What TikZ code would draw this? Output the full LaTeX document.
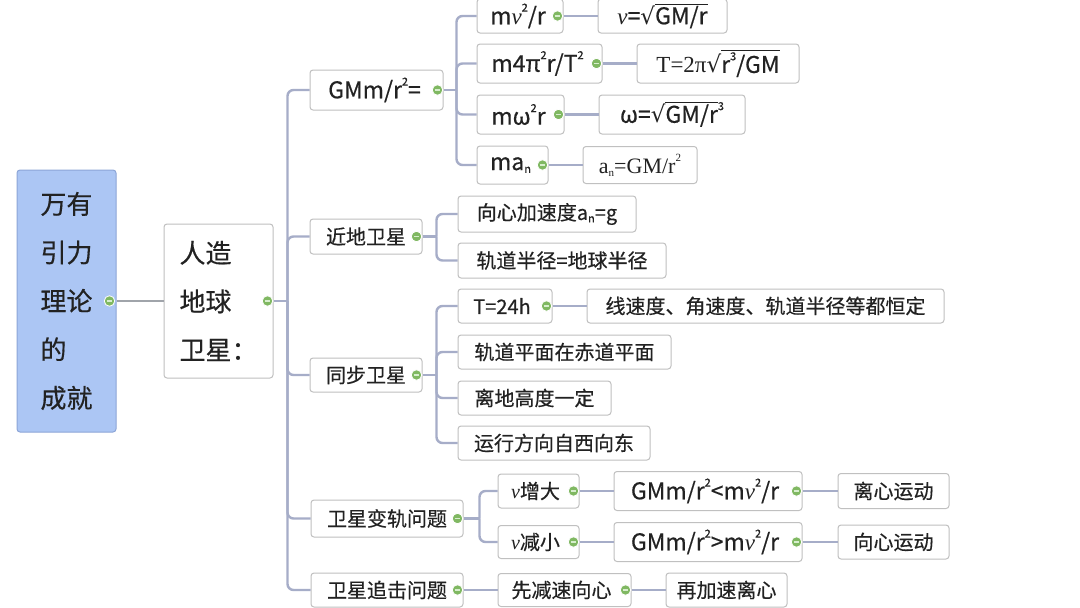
\documentclass[tikz,border=0pt]{standalone}
\usepackage{fontspec}
\setmainfont{Noto Sans CJK SC}[FakeBold=0.45]
\newfontfamily\serif{Liberation Serif}
\newfontfamily\dvs{DejaVu Sans}
\newcommand\vi{{\serif\itshape v}}
\newcommand\sq{{\dvs √}}
\newcommand\up[1]{\raisebox{0.55em}{\fontsize{11}{11}\selectfont #1}}
\newcommand\dn[1]{\raisebox{-0.12em}{\fontsize{11}{11}\selectfont #1}}
\newcommand\ovl[1]{\leavevmode\setbox0\hbox{#1}\rlap{\raisebox{\dimexpr\ht0+1.2pt\relax}{\rule{\wd0}{1.1pt}}}\box0}
\definecolor{txt}{RGB}{34,34,34}
\definecolor{bord}{RGB}{192,192,192}
\definecolor{lnc}{RGB}{166,173,200}
\definecolor{lng}{RGB}{160,164,170}
\definecolor{rootf}{RGB}{172,198,244}
\definecolor{rootd}{RGB}{140,165,215}
\definecolor{dotf}{RGB}{128,184,98}
\definecolor{dotl}{RGB}{215,238,205}
\tikzset{
  bx/.style={draw=bord, line width=1pt, fill=white, rounded corners=3pt, inner sep=0pt, text=txt},
  rootbox/.style={bx, draw=rootd, fill=rootf},
  f1/.style={font=\fontsize{26}{48.5}\selectfont},
  f2/.style={font=\fontsize{20}{24}\selectfont},
  f3/.style={font=\fontsize{23}{27}\selectfont},
  ln/.style={draw=lnc, line width=2.4pt},
  lng/.style={draw=lng, line width=2.4pt},
  rc/.style={rounded corners=6pt},
  dotnode/.style={circle, fill=dotf, draw=white, line width=0.8pt, minimum size=10.5pt, inner sep=0pt,
    path picture={\draw[dotl, line width=1.3pt] ([xshift=-2.8pt]path picture bounding box.center) -- ([xshift=2.8pt]path picture bounding box.center);}}
}
\begin{document}
\begin{tikzpicture}[x=1pt,y=-1pt]
\useasboundingbox (0,0) rectangle (1080,608);
\fill[white] (0,0) rectangle (1080,608);

% root and level 1
\node[rootbox, f1, align=left, minimum width=99, minimum height=262] (root) at (66.5,301) {万有\\引力\\理论\\的\\成就};
\node[bx, f1, align=left, minimum width=109, minimum height=154] (b) at (218.5,301) {人造\\地球\\卫星：};

% level 2
\node[bx, f3, minimum width=133, minimum height=40] (g) at (376.5,90) {GMm/r\up{2}=\hspace*{4pt}};
\node[bx, f2, minimum width=112, minimum height=35] (n) at (366,236.5) {近地卫星};
\node[bx, f2, minimum width=112, minimum height=34] (s) at (366,375) {同步卫星};
\node[bx, f2, minimum width=152, minimum height=37] (t) at (387,518.5) {卫星变轨问题};
\node[bx, f2, minimum width=152, minimum height=34] (u) at (387,590) {卫星追击问题};

% GMm children
\node[bx, f3, minimum width=86, minimum height=34] (g1) at (520,16) {m\vi\up{2}/r\hspace*{4pt}};
\node[bx, f3, minimum width=125, minimum height=39] (g2) at (539.5,63.5) {m4π\up{2}r/T\up{2}\hspace*{4pt}};
\node[bx, f3, minimum width=87, minimum height=39] (g3) at (520.5,114.5) {mω\up{2}r\hspace*{4pt}};
\node[bx, f3, minimum width=71, minimum height=38] (g4) at (512.5,165) {ma\dn{n}\hspace*{4pt}};
\node[bx, f3, minimum width=129, minimum height=34] (g1a) at (662.5,16) {\vi=\sq\ovl{GM/r}};
\node[bx, f3, minimum width=162, minimum height=39] (g2a) at (718,63.5) {{\serif T=2π}\sq\ovl{r\up{3}/GM}};
\node[bx, f3, minimum width=146, minimum height=39] (g3a) at (672,114.5) {ω=\sq\ovl{GM/r}\up{3}};
\node[bx, minimum width=114, minimum height=37, font=\fontsize{22}{26}\selectfont\serif] (g4a) at (640,165) {a\dn{n}=GM/r\up{2}};

% near-earth children
\node[bx, f2, minimum width=178, minimum height=36] (n1) at (547,214) {向心加速度a\dn{n}=g};
\node[bx, f2, minimum width=208, minimum height=35] (n2) at (562,260.5) {轨道半径=地球半径};

% synchronous children
\node[bx, f2, minimum width=94, minimum height=34] (s1) at (505,306) {T=24h\hspace*{6pt}};
\node[bx, f2, minimum width=357, minimum height=34] (s1a) at (765.5,306) {线速度、角速度、轨道半径等都恒定};
\node[bx, f2, minimum width=213, minimum height=34] (s2) at (564.5,352) {轨道平面在赤道平面};
\node[bx, f2, minimum width=153, minimum height=34] (s3) at (534.5,398) {离地高度一定};
\node[bx, f2, minimum width=192, minimum height=34] (s4) at (554,443) {运行方向自西向东};

% orbit change children
\node[bx, f2, minimum width=81, minimum height=34] (t1) at (538.5,491) {\vi 增大\hspace*{6pt}};
\node[bx, f3, minimum width=188, minimum height=39] (t1a) at (708,491) {GMm/r\up{2}<m\vi\up{2}/r\hspace*{6pt}};
\node[bx, f2, minimum width=111, minimum height=35] (t1b) at (893.5,491) {离心运动};
\node[bx, f2, minimum width=81, minimum height=33] (t2) at (538.5,542) {\vi 减小\hspace*{6pt}};
\node[bx, f3, minimum width=188, minimum height=39] (t2a) at (708,542) {GMm/r\up{2}>m\vi\up{2}/r\hspace*{6pt}};
\node[bx, f2, minimum width=111, minimum height=34] (t2b) at (893.5,542) {向心运动};

% chase children
\node[bx, f2, minimum width=133, minimum height=33] (u1) at (564.5,590) {先减速向心\hspace*{6pt}};
\node[bx, f2, minimum width=121, minimum height=34] (u1a) at (726.5,590) {再加速离心};

% connectors
\draw[lng] (root.east) -- (b.west);
\coordinate (tb) at ([xshift=14]b.east);
\draw[ln] (b.east) -- (tb);
\foreach \c in {g,n,s,t,u} \draw[ln,rc] (tb) |- (\c.west);
\coordinate (tg) at ([xshift=13]g.east);
\draw[ln] (g.east) -- (tg);
\foreach \c in {g1,g2,g3,g4} \draw[ln,rc] (tg) |- (\c.west);
\coordinate (tn) at ([xshift=14]n.east);
\draw[ln] (n.east) -- (tn);
\foreach \c in {n1,n2} \draw[ln,rc] (tn) |- (\c.west);
\coordinate (ts) at ([xshift=14]s.east);
\draw[ln] (s.east) -- (ts);
\foreach \c in {s1,s2,s3,s4} \draw[ln,rc] (ts) |- (\c.west);
\coordinate (tt) at ([xshift=16]t.east);
\draw[ln] (t.east) -- (tt);
\foreach \c in {t1,t2} \draw[ln,rc] (tt) |- (\c.west);
\draw[ln] (u.east) -- (u1.west);
\draw[ln] (g1.east) -- (g1a.west);
\draw[ln] (g2.east) -- (g2a.west);
\draw[ln] (g3.east) -- (g3a.west);
\draw[ln] (g4.east) -- (g4a.west);
\draw[ln] (s1.east) -- (s1a.west);
\draw[ln] (t1.east) -- (t1a.west);
\draw[ln] (t1a.east) -- (t1b.west);
\draw[ln] (t2.east) -- (t2a.west);
\draw[ln] (t2a.east) -- (t2b.west);
\draw[ln] (u1.east) -- (u1a.west);

% collapse dots
\node[dotnode] (root-dot) at ([xshift=-7]root.east) {};
\foreach \d in {b,g,n,s,t,u,g1,g2,g3,g4,s1,t1,t2,t1a,t2a,u1}
  \node[dotnode] (\d-dot) at ([xshift=-6]\d.east) {};
\end{tikzpicture}
\end{document}
